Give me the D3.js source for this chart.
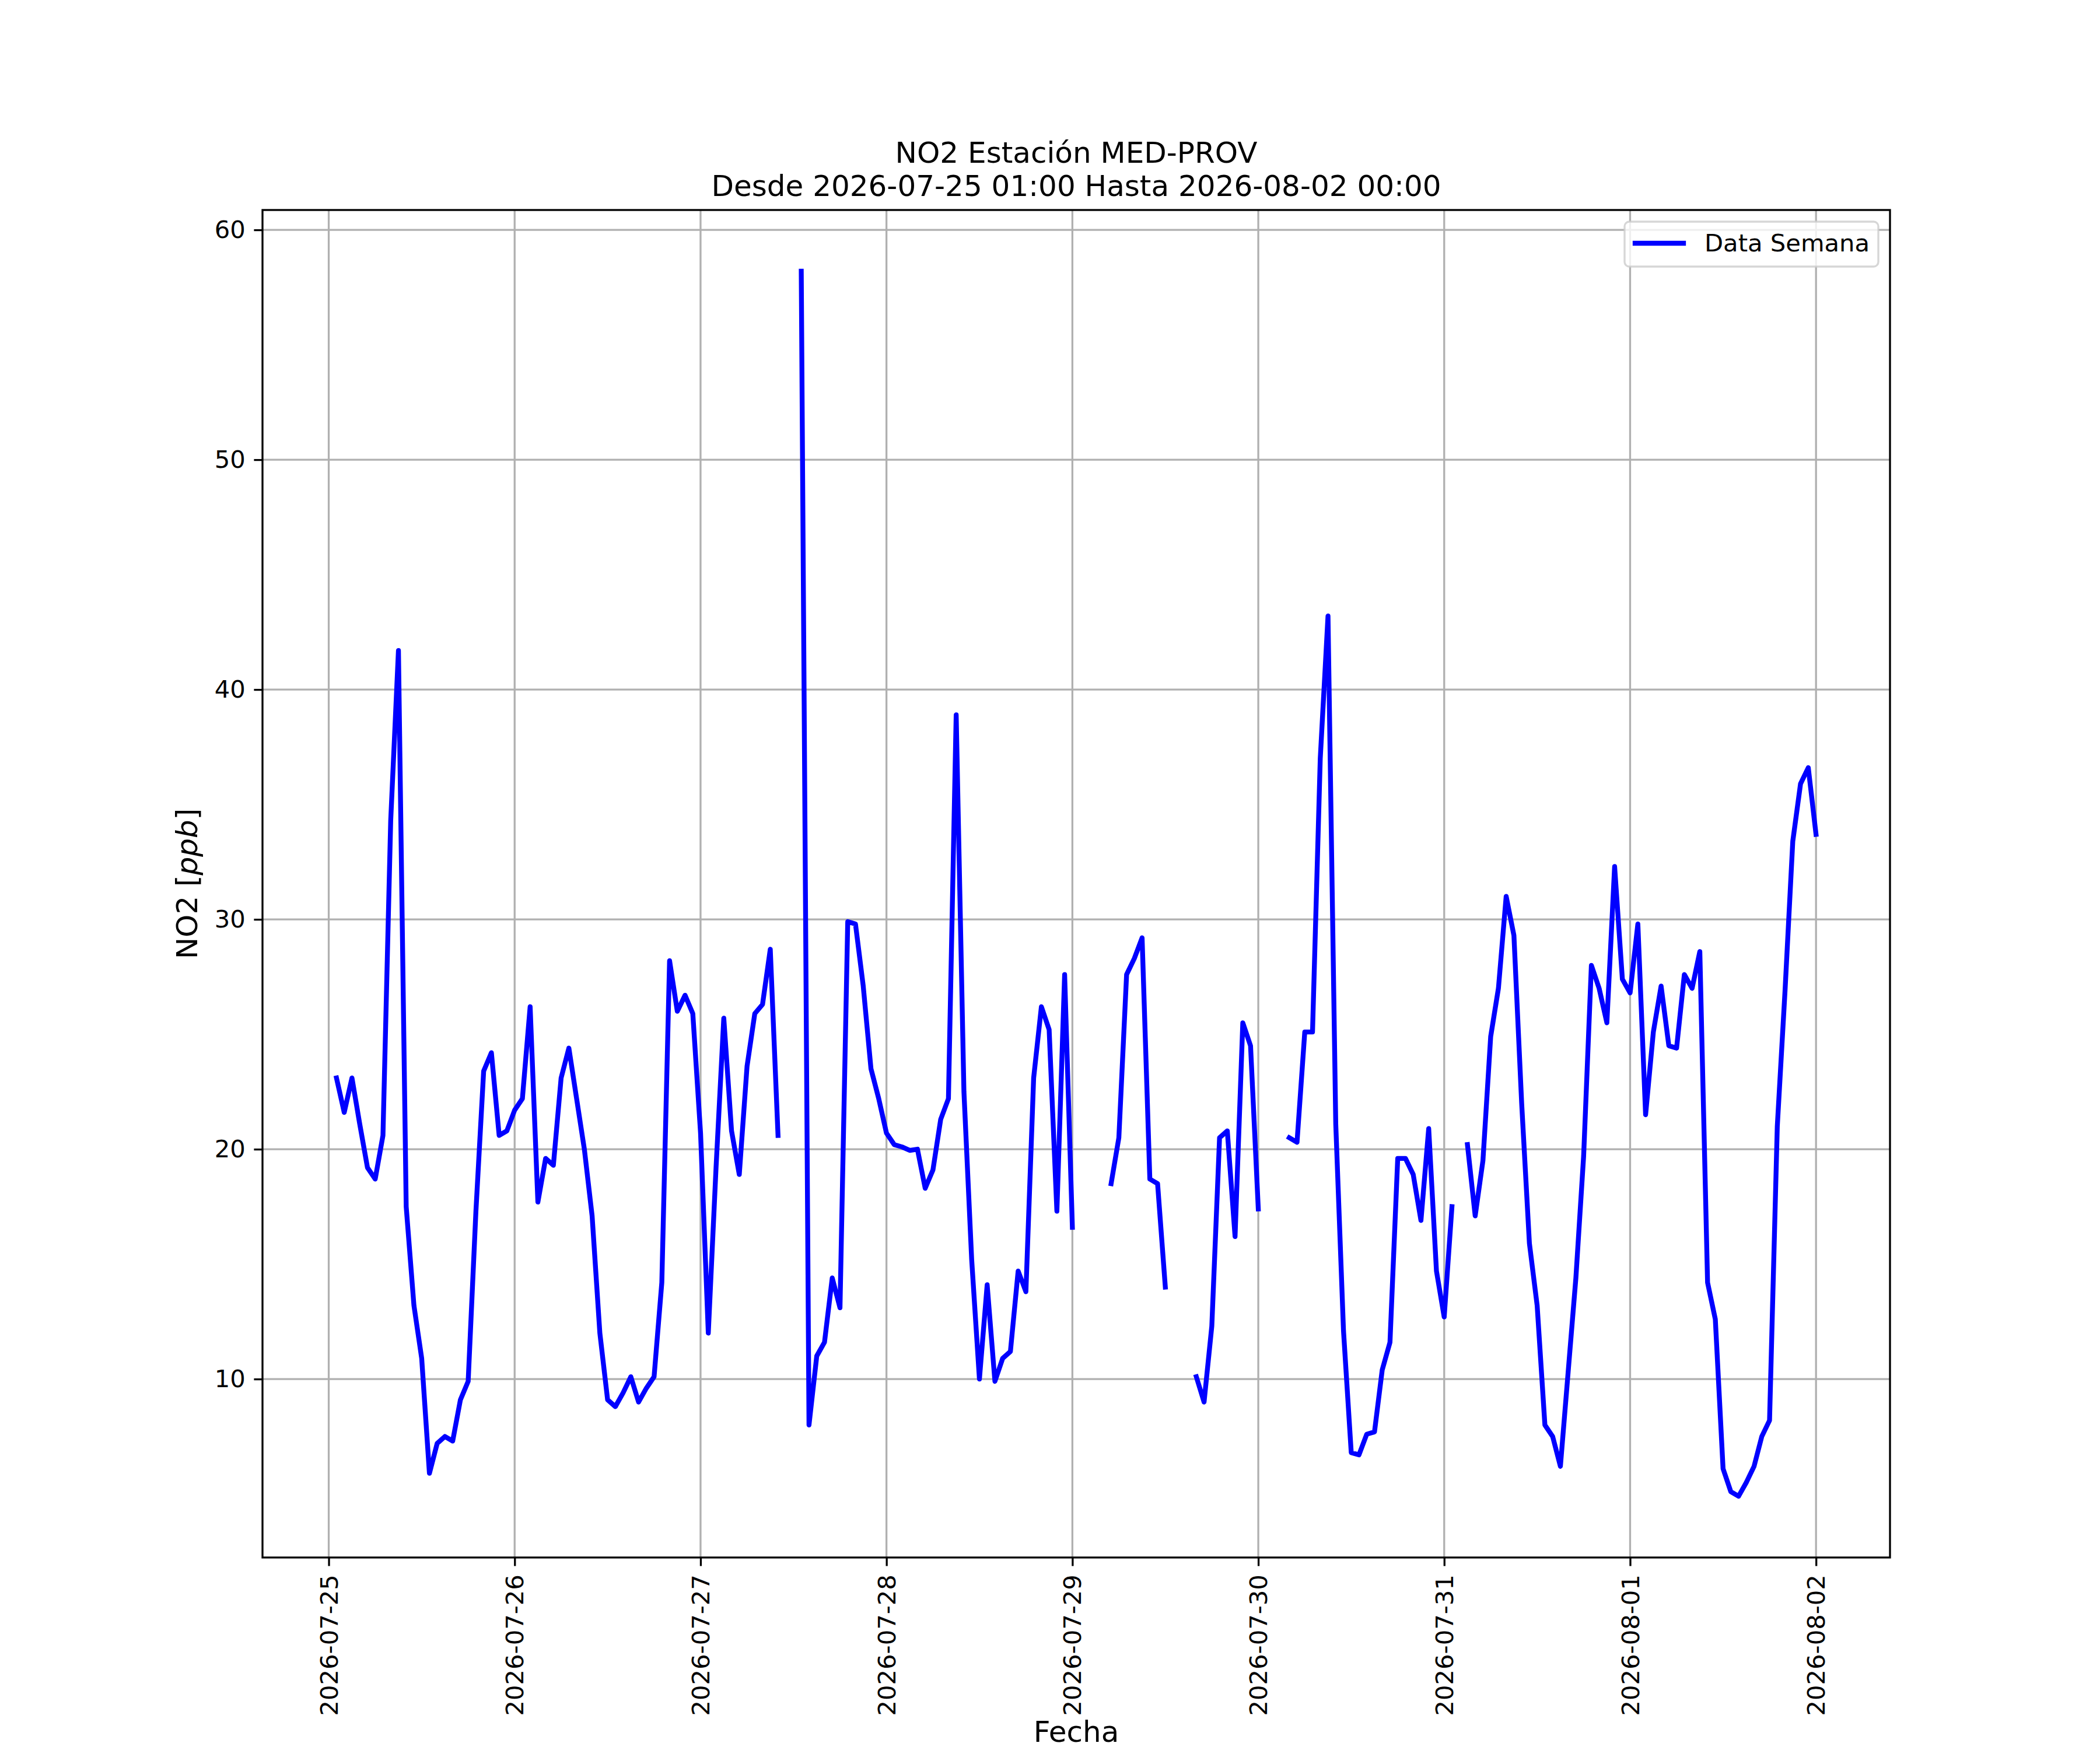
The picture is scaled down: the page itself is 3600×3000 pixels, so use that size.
<!DOCTYPE html>
<html>
<head>
<meta charset="utf-8">
<script src="https://cdn.jsdelivr.net/npm/d3@7"></script>
<style>
  body { margin: 0; background: #fff; }
  svg { display: block; font-family: "DejaVu Sans", sans-serif; }
</style>
</head>
<body>
<div id="chart"></div>
<script>
// hourly NO2 readings (ppb), null = no data
var startTime = "2026-07-25T01:00:00Z";
var endTime = "2026-08-02T00:00:00Z";

var no2_0725 = [23.1, 21.6, 23.1, 21.1, 19.2, 18.7, 20.6, 34.3, 41.7, 17.5, 13.2, 10.9,
  5.9, 7.2, 7.5, 7.3, 9.1, 9.9, 17.3, 23.4, 24.2, 20.6, 20.8];
var no2_0726 = [21.7, 22.2, 26.2, 17.7, 19.6, 19.3, 23.1, 24.4, 22.2, 20.0, 17.1, 12.0,
  9.1, 8.8, 9.4, 10.1, 9.0, 9.6, 10.1, 14.2, 28.2, 26.0, 26.7, 25.9];
var no2_0727 = [20.7, 12.0, 19.2, 25.7, 20.8, 18.9, 23.6, 25.9, 26.3, 28.7, 20.6, null,
  null, 58.2, 8.0, 11.0, 11.6, 14.4, 13.1, 29.9, 29.8, 27.1, 23.5, 22.2];
var no2_0728 = [20.7, 20.2, 20.1, 19.95, 20.0, 18.3, 19.1, 21.3, 22.2, 38.9, 22.5, 15.2,
  10.0, 14.1, 9.9, 10.9, 11.2, 14.7, 13.8, 23.1, 26.2, 25.2, 17.3, 27.6];
var no2_0729 = [16.6, null, null, null, null, 18.5, 20.5, 27.6, 28.3, 29.2, 18.7, 18.5,
  14.0, null, null, null, 10.1, 9.0, 12.3, 20.5, 20.8, 16.2, 25.5, 24.5];
var no2_0730 = [17.4, null, null, null, 20.5, 20.3, 25.1, 25.1, 37.0, 43.2, 21.1, 12.1,
  6.8, 6.7, 7.6, 7.7, 10.4, 11.6, 19.6, 19.6, 18.9, 16.9, 20.9, 14.7];
var no2_0731 = [12.7, 17.5, null, 20.2, 17.1, 19.5, 24.9, 27.0, 31.0, 29.3, 22.0, 15.9,
  13.2, 8.0, 7.5, 6.2, 10.3, 14.4, 19.7, 28.0, 27.0, 25.5, 32.3, 27.4];
var no2_0801 = [26.8, 29.8, 21.5, 25.1, 27.1, 24.5, 24.4, 27.6, 27.0, 28.6, 14.2, 12.6,
  6.1, 5.1, 4.9, 5.5, 6.2, 7.5, 8.2, 21.0, 26.9, 33.4, 35.9, 36.6];
var no2_0802 = [33.7];

var yTicks = [10, 20, 30, 40, 50, 60];
var titleLines = ["NO2 Estación MED-PROV", "Desde 2026-07-25 01:00 Hasta 2026-08-02 00:00"];
var seriesName = "Data Semana";

var W = 3600, H = 3000;
var margin = {left: 450, right: 360, top: 360, bottom: 330};
var pw = W - margin.left - margin.right;
var ph = H - margin.top - margin.bottom;

var t0 = new Date(startTime);
var t1 = new Date(endTime);
var values = [].concat(no2_0725, no2_0726, no2_0727, no2_0728, no2_0729,
  no2_0730, no2_0731, no2_0801, no2_0802);
var data = values.map(function(v, i) {
  return {t: d3.utcHour.offset(t0, i), v: v};
});

// 5% autoscale margins like matplotlib
var padT = (t1 - t0) * 0.05;
var ext = d3.extent(values.filter(function(v) { return v != null; }));
var padV = (ext[1] - ext[0]) * 0.05;

var x = d3.scaleUtc()
  .domain([new Date(+t0 - padT), new Date(+t1 + padT)])
  .range([0, pw]);
var y = d3.scaleLinear()
  .domain([ext[0] - padV, ext[1] + padV])
  .range([ph, 0]);

var svg = d3.select("#chart").append("svg")
  .attr("width", W).attr("height", H);

svg.append("rect").attr("width", W).attr("height", H).attr("fill", "#fff");

var g = svg.append("g")
  .attr("transform", "translate(" + margin.left + "," + margin.top + ")");

var xTicks = d3.utcDay.range(d3.utcDay.ceil(x.domain()[0]), x.domain()[1]);
var fmt = d3.utcFormat("%Y-%m-%d");

// grid
g.append("g").selectAll("line").data(xTicks).enter().append("line")
  .attr("x1", function(d) { return x(d); }).attr("x2", function(d) { return x(d); })
  .attr("y1", 0).attr("y2", ph)
  .attr("stroke", "#b0b0b0").attr("stroke-width", 3.3);
g.append("g").selectAll("line").data(yTicks).enter().append("line")
  .attr("y1", function(d) { return y(d); }).attr("y2", function(d) { return y(d); })
  .attr("x1", 0).attr("x2", pw)
  .attr("stroke", "#b0b0b0").attr("stroke-width", 3.3);

// series
var line = d3.line()
  .defined(function(d) { return d.v != null; })
  .x(function(d) { return x(d.t); })
  .y(function(d) { return y(d.v); });

g.append("path").datum(data)
  .attr("d", line)
  .attr("fill", "none")
  .attr("stroke", "#0000ff")
  .attr("stroke-width", 8.33)
  .attr("stroke-linejoin", "round")
  .attr("stroke-linecap", "square");

// axes
var xAxis = g.append("g")
  .attr("transform", "translate(0," + ph + ")")
  .call(d3.axisBottom(x).tickValues(xTicks).tickFormat(fmt).tickSize(14.6).tickPadding(14.6));
var yAxis = g.append("g")
  .call(d3.axisLeft(y).tickValues(yTicks).tickSize(14.6).tickPadding(14.6));

[xAxis, yAxis].forEach(function(a) {
  a.select(".domain").remove();
  a.selectAll(".tick line").attr("stroke", "#000").attr("stroke-width", 3.3);
  a.selectAll(".tick text").attr("fill", "#000")
    .style("font-family", "DejaVu Sans").style("font-size", "41.7px");
});

xAxis.selectAll(".tick text")
  .attr("transform", "rotate(-90)")
  .attr("text-anchor", "end")
  .attr("x", -29.2)
  .attr("y", 0)
  .attr("dy", "0.35em");

// spines
g.append("rect")
  .attr("width", pw).attr("height", ph)
  .attr("fill", "none").attr("stroke", "#000").attr("stroke-width", 3.3);

// legend
var leg = svg.append("g");
leg.append("rect")
  .attr("x", 2785).attr("y", 380).attr("width", 435).attr("height", 77)
  .attr("rx", 8).attr("ry", 8)
  .attr("fill", "#fff").attr("fill-opacity", 0.8)
  .attr("stroke", "#cccccc").attr("stroke-opacity", 0.8).attr("stroke-width", 3.3);
leg.append("line")
  .attr("x1", 2803).attr("x2", 2886).attr("y1", 417).attr("y2", 417)
  .attr("stroke", "#0000ff").attr("stroke-width", 8.33).attr("stroke-linecap", "square");
leg.append("text")
  .attr("x", 2922).attr("y", 431)
  .style("font-size", "41.7px")
  .text(seriesName);

// title
svg.append("g").selectAll("text").data(titleLines).enter().append("text")
  .attr("x", margin.left + pw / 2)
  .attr("y", function(d, i) { return 279 + i * 57; })
  .attr("text-anchor", "middle")
  .style("font-size", "50px")
  .text(function(d) { return d; });

// axis labels
svg.append("text")
  .attr("x", margin.left + pw / 2).attr("y", 2986)
  .attr("text-anchor", "middle")
  .style("font-size", "50px")
  .text("Fecha");

var yl = svg.append("text")
  .attr("transform", "translate(338," + (margin.top + ph / 2) + ") rotate(-90)")
  .attr("text-anchor", "middle")
  .style("font-size", "50px");
yl.append("tspan").text("NO2 [");
yl.append("tspan").style("font-style", "italic").text("ppb");
yl.append("tspan").text("]");
</script>
</body>
</html>
